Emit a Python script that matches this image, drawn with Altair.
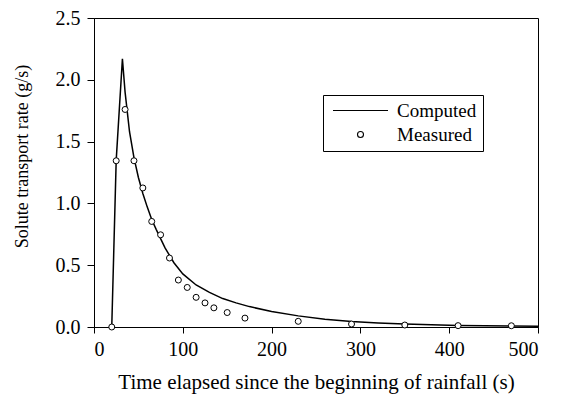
import altair as alt
import pandas as pd

# Computed curve
comp_t = [20, 25, 32, 35, 40, 45, 50, 55, 60, 65, 70, 80, 90, 100, 115, 130, 145,
          160, 175, 200, 230, 260, 290, 320, 350, 380, 410, 440, 470, 500]
comp_v = [0.0, 1.35, 2.17, 1.90, 1.58, 1.37, 1.21, 1.08, 0.97, 0.87, 0.79, 0.64,
          0.52, 0.43, 0.34, 0.28, 0.23, 0.195, 0.165, 0.125, 0.09, 0.063, 0.045,
          0.033, 0.024, 0.018, 0.013, 0.010, 0.008, 0.006]

# Measured points
meas_t = [20, 25, 35, 45, 55, 65, 75, 85, 95, 105, 115, 125, 135, 150, 170,
          230, 290, 350, 410, 470]
meas_v = [0.0, 1.345, 1.76, 1.345, 1.125, 0.854, 0.746, 0.558, 0.38, 0.32, 0.24,
          0.195, 0.155, 0.117, 0.072, 0.046, 0.024, 0.016, 0.011, 0.010]

series = ["Computed", "Measured"]

comp = pd.DataFrame({"t": comp_t, "v": comp_v, "s": "Computed"})
meas = pd.DataFrame({"t": meas_t, "v": meas_v, "s": "Measured"})

FONT = "Liberation Serif"

xscale = alt.Scale(domain=[0, 500], nice=False, zero=False)
yscale = alt.Scale(domain=[0, 2.5], nice=False)

xaxis = alt.Axis(values=[0, 100, 200, 300, 400, 500], format="d", grid=False,
                 title="Time elapsed since the beginning of rainfall (s)",
                 tickSize=6, labelPadding=6, titlePadding=12,
                 labelFontSize=20, titleFontSize=21)
yaxis = alt.Axis(values=[0, 0.5, 1.0, 1.5, 2.0, 2.5], format=".1f", grid=False,
                 title="Solute transport rate (g/s)",
                 tickSize=7, labelPadding=7, titlePadding=24, titleY=138,
                 labelFontSize=20, titleFontSize=18)

line = alt.Chart(comp).mark_line(color="black", strokeWidth=1.5).encode(
    x=alt.X("t:Q", scale=xscale, axis=xaxis),
    y=alt.Y("v:Q", scale=yscale, axis=yaxis),
)

leg = dict(title=None, symbolFillColor="white", symbolStrokeWidth=1.1)

pts = alt.Chart(meas).mark_point(filled=False, fill="white",
                                 strokeWidth=1, opacity=1).encode(
    x=alt.X("t:Q", scale=xscale),
    y=alt.Y("v:Q", scale=yscale),
    color=alt.Color("s:N", scale=alt.Scale(domain=series, range=["black", "black"]),
                    legend=alt.Legend(**leg)),
    shape=alt.Shape("s:N", scale=alt.Scale(domain=series, range=["M-5,0H5", "circle"]),
                    legend=alt.Legend(**leg)),
    size=alt.Size("s:N", scale=alt.Scale(domain=series, range=[121, 36]),
                  legend=alt.Legend(**leg)),
)

chart = alt.layer(line, pts).properties(
    width=444, height=309,
    autosize=alt.AutoSizeParams(type="none"),
    padding={"left": 86, "top": 10, "right": 16, "bottom": 72},
).configure_view(
    stroke="black", strokeWidth=1
).configure_axis(
    domainColor="black", tickColor="black", labelColor="black", titleColor="black",
    labelFont=FONT, titleFont=FONT,
    titleFontWeight="normal", domainWidth=1, tickWidth=1
).configure_legend(
    orient="none", legendX=229, legendY=77,
    strokeColor="black", fillColor="white", padding=6,
    labelFont=FONT, labelFontSize=19, labelColor="black",
    symbolOffset=22, labelOffset=27, rowPadding=4
)

chart.save("out.html", embed_options={"renderer": "svg", "actions": False})
